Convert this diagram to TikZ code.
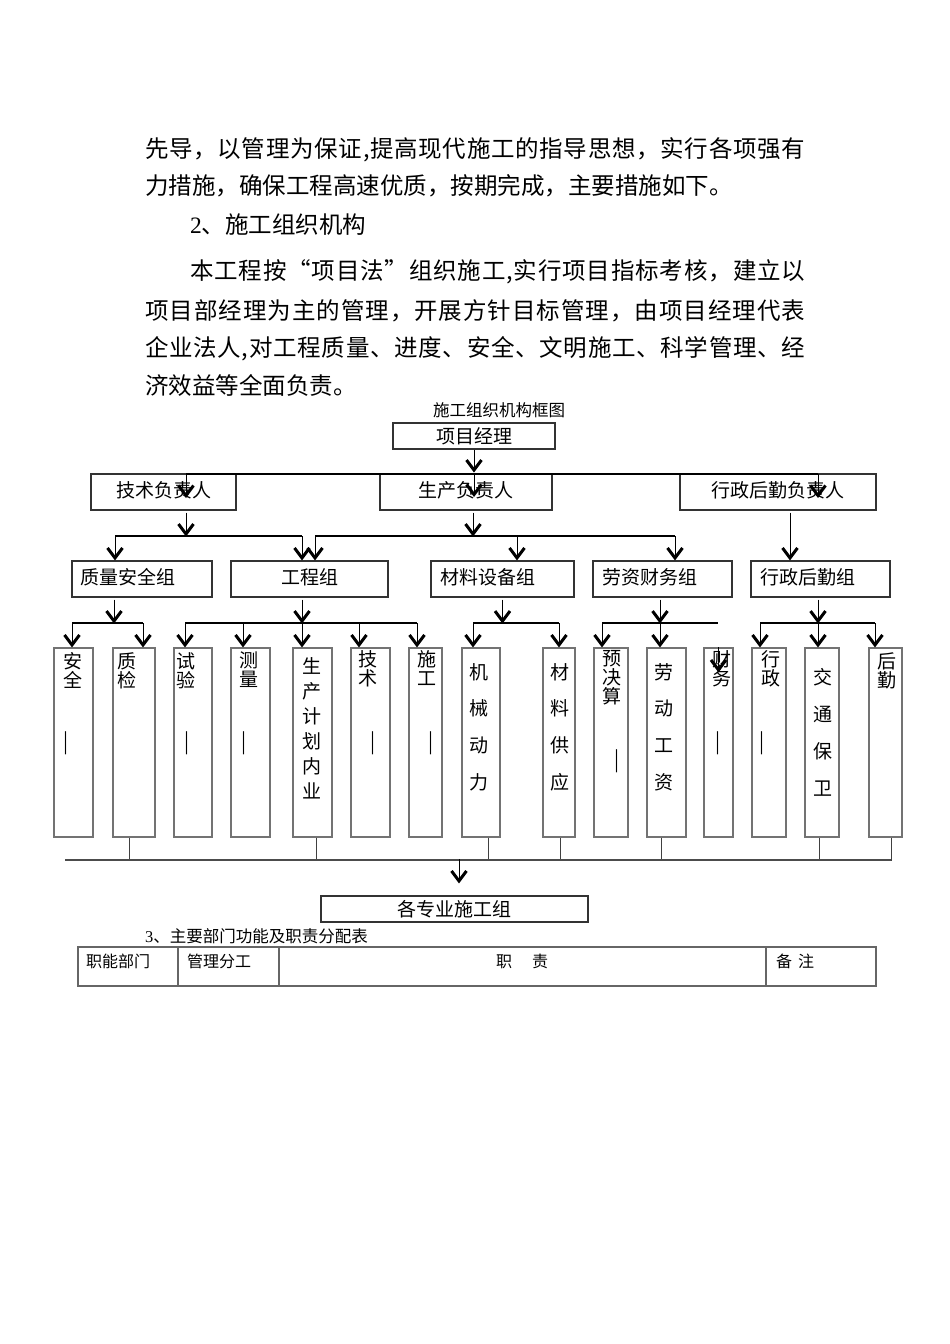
\documentclass[tikz,border=0pt]{standalone}
\usepackage{fontspec}
\setmainfont{Liberation Serif}
\newfontfamily\cjk{Noto Sans CJK SC}
\usetikzlibrary{arrows.meta,calc}
\ExplSyntaxOn
\cs_new_protected:Npn \myspread #1
  {
    \seq_clear:N \l_tmpa_seq
    \tl_map_inline:nn {#1} { \seq_put_right:Nn \l_tmpa_seq {##1} }
    \seq_use:Nn \l_tmpa_seq { \hfill }
  }
\ExplSyntaxOff
\begin{document}
\begin{tikzpicture}[x=1pt,y=-1pt,
  box/.style={draw=black!80, line width=1.1pt, inner sep=0, font=\cjk\fontsize{19}{19}\selectfont},
  col/.style={draw=black!55, line width=1.1pt, inner sep=0, minimum height=189pt},
  vt/.style={align=center, inner sep=0, anchor=north, font=\cjk\fontsize{19}{#1}\selectfont},
  vt/.default=19,
  bar/.style={inner sep=0, font=\cjk\fontsize{27}{27}\selectfont, text=black},
  arr/.style={draw=black, line width=0.9pt, -{Straight Barb[length=10pt,width=15pt,line width=3pt]}},
  ln/.style={draw=black, line width=1.2pt},
  drop/.style={draw=black!75, line width=1pt},
  busline/.style={draw=black!70, line width=2pt},
  body/.style={anchor=west, inner sep=0, font=\cjk\fontsize{23.5}{23.5}\selectfont},
  small/.style={inner sep=0, font=\cjk\fontsize{16.5}{16.5}\selectfont},
  th/.style={inner sep=0, anchor=west, font=\cjk\fontsize{16}{16}\selectfont},
  tbl/.style={draw=black!60, line width=1.2pt},
]
\useasboundingbox (0,0) rectangle (950,1344);
\fill[white] (0,0) rectangle (950,1344);

% ---------- body text ----------
\node[body] (l1) at (145,150) {\hbox to 660pt{\myspread{先导，以管理为保证,提高现代施工的指导思想，实行各项强有}}};
\node[body] (l2) at (145,186) {力措施，确保工程高速优质，按期完成，主要措施如下。};
\node[body] (l3) at (190,225) {{\rmfamily\fontsize{23.5}{23.5}\selectfont 2}、施工组织机构};
\node[body] (l4) at (190,272) {\hbox to 615pt{\myspread{本工程按“项目法”组织施工,实行项目指标考核，建立以}}};
\node[body] (l5) at (145,311) {\hbox to 660pt{\myspread{项目部经理为主的管理，开展方针目标管理，由项目经理代表}}};
\node[body] (l6) at (145,349) {\hbox to 660pt{\myspread{企业法人,对工程质量、进度、安全、文明施工、科学管理、经}}};
\node[body] (l7) at (145,385) {济效益等全面负责。};

% ---------- chart title ----------
\node[small] (title) at (499,410) {施工组织机构框图};

% ---------- boxes ----------
\node[box, minimum width=162pt, minimum height=26pt] (pm) at (474,436) {项目经理\hspace{32pt}};

\node[box, minimum width=145pt, minimum height=36pt] (tech) at (163.5,492) {\raisebox{4pt}{技术负责人}};
\node[box, minimum width=172pt, minimum height=36pt] (prod) at (466,492) {\raisebox{4pt}{生产负责人}};
\node[box, minimum width=196pt, minimum height=36pt] (adm) at (778,492) {\raisebox{4pt}{行政后勤负责人}};

\node[box, minimum width=140pt, minimum height=36pt] (qs) at (142,579) {\raisebox{5pt}{质量安全组\hspace{28pt}}};
\node[box, minimum width=157pt, minimum height=36pt] (eng) at (309.5,579) {\raisebox{5pt}{工程组}};
\node[box, minimum width=143pt, minimum height=36pt] (mat) at (502.5,579) {\raisebox{5pt}{材料设备组\hspace{29pt}}};
\node[box, minimum width=139pt, minimum height=36pt] (lab) at (662.5,579) {\raisebox{5pt}{劳资财务组\hspace{25pt}}};
\node[box, minimum width=139pt, minimum height=36pt] (admg) at (820.5,579) {\raisebox{5pt}{行政后勤组\hspace{25pt}}};

% row 4 columns
\node[col, minimum width=39pt] (c1) at (73.5,742.5) {};
\node[col, minimum width=42pt] (c2) at (134,742.5) {};
\node[col, minimum width=38pt] (c3) at (193,742.5) {};
\node[col, minimum width=39pt] (c4) at (250.5,742.5) {};
\node[col, minimum width=39pt] (c5) at (312.5,742.5) {};
\node[col, minimum width=39pt] (c6) at (370.5,742.5) {};
\node[col, minimum width=33pt] (c7) at (425.5,742.5) {};
\node[col, minimum width=38pt] (c8) at (481,742.5) {};
\node[col, minimum width=32pt] (c9) at (559,742.5) {};
\node[col, minimum width=34pt] (c10) at (611,742.5) {};
\node[col, minimum width=39pt] (c11) at (666.5,742.5) {};
\node[col, minimum width=29pt] (c12) at (718.5,742.5) {};
\node[col, minimum width=34pt] (c13) at (769,742.5) {};
\node[col, minimum width=34pt] (c14) at (822,742.5) {};
\node[col, minimum width=33pt] (c15) at (885.5,742.5) {};

% row 4 labels
\node[vt] (t1) at (73,652) {安\\全};
\node[vt] (t2) at (127,652) {质\\检};
\node[vt] (t3) at (186,652) {试\\验};
\node[vt] (t4) at (249,652) {测\\量};
\node[vt=25] (t5) at (312,657) {生\\产\\计\\划\\内\\业};
\node[vt] (t6) at (368,650) {技\\术};
\node[vt] (t7) at (427,650) {施\\工};
\node[vt=36.7] (t8) at (479,663) {机\\械\\动\\力};
\node[vt=36.7] (t9) at (560,663) {材\\料\\供\\应};
\node[vt=19] (t10) at (612,650) {预\\决\\算};
\node[vt=36.7] (t11) at (664,663) {劳\\动\\工\\资};
\node[vt] (t12) at (722,650) {财\\务};
\node[vt] (t13) at (771,650) {行\\政};
\node[vt=37] (t14) at (823,668) {交\\通\\保\\卫};
\node[vt] (t15) at (887,652) {后\\勤};

% vertical dashes
\node[bar] (d1) at (66,743) {︱};
\node[bar] (d3) at (187,743) {︱};
\node[bar] (d4) at (244,743) {︱};
\node[bar] (d6) at (373,743) {︱};
\node[bar] (d7) at (431,743) {︱};
\node[bar] (d10) at (617,761) {︱};
\node[bar] (d12) at (718,743) {︱};
\node[bar] (d13) at (762,743) {︱};

% final box
\node[box, minimum width=267pt, minimum height=26pt] (fin) at (454.5,909) {各专业施工组\hspace{19pt}};

% ---------- connectors: level 1 ----------
\coordinate (bA-l) at (186,474);
\coordinate (bA-r) at (818,474);
\draw[arr] (pm.south) -- ++(0,23);
\draw[ln] (bA-l) -- (bA-r);
\draw[arr] (bA-l) -- ++(0,24);
\draw[arr] (pm.south |- bA-l) -- ++(0,23);
\draw[arr] (bA-r) -- ++(0,24);

% ---------- level 2 -> 3 ----------
\coordinate (bB1-l) at (115,536);
\coordinate (bB1-r) at (302,536);
\draw[arr] ($(tech.south)+(22.5,2)$) -- ++(0,24);
\draw[ln] (bB1-l) -- (bB1-r);
\draw[arr] (bB1-l) -- (bB1-l |- qs.north);
\draw[arr] (bB1-r) -- (bB1-r |- eng.north);

\coordinate (bB2-l) at (315,536);
\coordinate (bB2-m) at (517,536);
\coordinate (bB2-r) at (675,536);
\draw[arr] ($(prod.south)+(7,2)$) -- ++(0,24);
\draw[ln] (bB2-l) -- (bB2-r);
\draw[arr] (bB2-l) -- (bB2-l |- eng.north);
\draw[arr] (bB2-m) -- (bB2-m |- mat.north);
\draw[arr] (bB2-r) -- (bB2-r |- lab.north);

\draw[arr] ($(adm.south)+(12,2)$) -- ($(admg.north)+(-30.5,0)$);

% ---------- level 3 -> 4 ----------
\coordinate (bC1-l) at (72,623);
\coordinate (bC1-r) at (143,623);
\draw[arr] ($(qs.south)+(-28,2)$) -- ++(0,24);
\draw[ln] (bC1-l) -- (bC1-r);
\draw[arr] (bC1-l) -- (bC1-l |- c1.north);
\draw[arr] (bC1-r) -- (bC1-r |- c2.north);

\coordinate (bC2-l) at (185,623);
\coordinate (bC2-a) at (243,623);
\coordinate (bC2-b) at (302,623);
\coordinate (bC2-c) at (359,623);
\coordinate (bC2-r) at (417,623);
\draw[arr] ($(eng.south)+(-7.5,2)$) -- ++(0,24);
\draw[ln] (bC2-l) -- (bC2-r);
\draw[arr] (bC2-l) -- (bC2-l |- c3.north);
\draw[arr] (bC2-a) -- (bC2-a |- c4.north);
\draw[arr] (bC2-b) -- (bC2-b |- c5.north);
\draw[arr] (bC2-c) -- (bC2-c |- c6.north);
\draw[arr] (bC2-r) -- (bC2-r |- c7.north);

\coordinate (bC3-l) at (473,623);
\coordinate (bC3-r) at (559,623);
\draw[arr] ($(mat.south)+(0,2)$) -- ++(0,24);
\draw[ln] (bC3-l) -- (bC3-r);
\draw[arr] (bC3-l) -- (bC3-l |- c8.north);
\draw[arr] (bC3-r) -- (bC3-r |- c9.north);

\coordinate (bC4-l) at (602,623);
\coordinate (bC4-m) at (660,623);
\coordinate (bC4-r) at (718,623);
\draw[arr] ($(lab.south)+(-2.5,2)$) -- ++(0,24);
\draw[ln] (bC4-l) -- (bC4-r);
\draw[arr] (bC4-l) -- (bC4-l |- c10.north);
\draw[arr] (bC4-m) -- (bC4-m |- c11.north);
\draw[arr] (c12.north) -- ++(0,25);

\coordinate (bC5-l) at (760,623);
\coordinate (bC5-m) at (818,623);
\coordinate (bC5-r) at (875,623);
\draw[arr] ($(admg.south)+(-2.5,2)$) -- ++(0,24);
\draw[ln] (bC5-l) -- (bC5-r);
\draw[arr] (bC5-l) -- (bC5-l |- c13.north);
\draw[arr] (bC5-m) -- (bC5-m |- c14.north);
\draw[arr] (bC5-r) -- (bC5-r |- c15.north);

% ---------- bottom collection ----------
\coordinate (bD-l) at (65,860);
\coordinate (bD-r) at (891,860);
\draw[drop] ($(c2.south)+(-5,0)$) -- ++(0,23);
\draw[drop] ($(c5.south)+(3.5,0)$) -- ++(0,23);
\draw[drop] ($(c8.south)+(7,0)$) -- ++(0,23);
\draw[drop] ($(c9.south)+(1,0)$) -- ++(0,23);
\draw[drop] ($(c11.south)+(-5.5,0)$) -- ++(0,23);
\draw[drop] ($(c14.south)+(-3,0)$) -- ++(0,23);
\draw[drop] ($(c15.south)+(5.5,0)$) -- ++(0,23);
\draw[busline] (bD-l) -- (bD-r);
\draw[arr] ($(fin.north)+(4.5,-36)$) -- ($(fin.north)+(4.5,-12)$);

% ---------- table ----------
\node[small, anchor=west] (sec3) at (145,936) {{\rmfamily\fontsize{16.5}{16.5}\selectfont 3}、主要部门功能及职责分配表};
\draw[tbl] (78,947) rectangle (876,986);
\draw[tbl] (178,947) -- (178,986);
\draw[tbl] (279,947) -- (279,986);
\draw[tbl] (766,947) -- (766,986);
\node[th] (h1) at (86,961) {职能部门};
\node[th] (h2) at (187,961) {管理分工};
\node[th] (h3) at (496,961) {职\hspace{20pt}责};
\node[th] (h4) at (776,961) {备\hspace{6pt}注};
\end{tikzpicture}
\end{document}
